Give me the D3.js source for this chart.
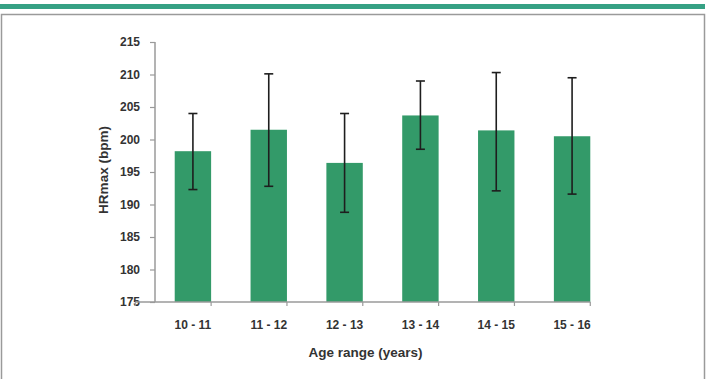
<!DOCTYPE html>
<html>
<head>
<meta charset="utf-8">
<script src="https://cdn.jsdelivr.net/npm/d3@7"></script>
<style>
  body { margin: 0; background: #fff; }
  svg { display: block; font-family: "Liberation Sans", Arial, sans-serif; }
</style>
</head>
<body>
<div id="chart-area"></div>
<script>
// data
var ageRanges = ["10 - 11", "11 - 12", "12 - 13", "13 - 14", "14 - 15", "15 - 16"];
var hrMax = [198.2, 201.5, 196.4, 203.7, 201.4, 200.5];
var errHigh = [204.0, 210.1, 204.0, 209.0, 210.3, 209.5];
var errLow = [192.3, 192.8, 188.8, 198.5, 192.1, 191.6];
var yTicks = [175, 180, 185, 190, 195, 200, 205, 210, 215];

var W = 721, H = 379;
var margin = { left: 155, right: 111, top: 42, bottom: 77 };
var width = W - margin.left - margin.right,
    height = H - margin.top - margin.bottom;

var svg = d3.select("#chart-area")
  .append("svg")
    .attr("width", W)
    .attr("height", H);

// top band + frame
svg.append("rect")
  .attr("x", 0).attr("y", 4)
  .attr("width", 705).attr("height", 5)
  .attr("fill", "#36a184");

svg.append("path")
  .attr("d", "M1.5," + H + "V14.5H704.5V" + H)
  .attr("fill", "none")
  .attr("stroke", "#9a9a9a")
  .attr("stroke-width", 1.5);

var g = svg.append("g")
  .attr("transform", "translate(" + margin.left + ", " + margin.top + ")");

var x = d3.scaleBand()
  .domain(ageRanges)
  .range([0, width])
  .paddingInner(0.52)
  .paddingOuter(0.26);

var y = d3.scaleLinear()
  .domain([175, 215])
  .range([height, 0]);

// bars
g.selectAll("rect.bar")
  .data(ageRanges)
  .enter().append("rect")
    .attr("class", "bar")
    .attr("x", function(d) { return x(d); })
    .attr("y", function(d, i) { return y(hrMax[i]); })
    .attr("width", x.bandwidth())
    .attr("height", function(d, i) { return height - y(hrMax[i]); })
    .attr("fill", "#339a69");

// error bars
var err = g.selectAll("g.err")
  .data(ageRanges)
  .enter().append("g")
    .attr("class", "err")
    .attr("transform", function(d) { return "translate(" + (x(d) + x.bandwidth() / 2) + ",0)"; })
    .attr("stroke", "#1e1e1e")
    .attr("stroke-width", 1.6);

err.append("line")
  .attr("y1", function(d, i) { return y(errHigh[i]); })
  .attr("y2", function(d, i) { return y(errLow[i]); });
err.append("line")
  .attr("x1", -4.5).attr("x2", 4.5)
  .attr("y1", function(d, i) { return y(errHigh[i]); })
  .attr("y2", function(d, i) { return y(errHigh[i]); });
err.append("line")
  .attr("x1", -4.5).attr("x2", 4.5)
  .attr("y1", function(d, i) { return y(errLow[i]); })
  .attr("y2", function(d, i) { return y(errLow[i]); });

// y axis
var yAxisGroup = g.append("g")
  .call(d3.axisLeft(y).tickValues(yTicks).tickSize(5).tickPadding(10));

// x axis: labels from band scale, ticks at band boundaries
var xAxisGroup = g.append("g")
  .attr("transform", "translate(0, " + height + ")")
  .call(d3.axisBottom(x).tickSize(0).tickPadding(18));

var step = x.step();
var bounds = d3.range(ageRanges.length + 1).map(function(i) {
  return x(ageRanges[0]) - x.paddingOuter() * step - x.paddingInner() * step / 2 + i * step;
});
xAxisGroup.selectAll("line.bnd")
  .data(bounds)
  .enter().append("line")
    .attr("class", "bnd")
    .attr("x1", function(d) { return d; })
    .attr("x2", function(d) { return d; })
    .attr("y1", 0).attr("y2", 4);

[yAxisGroup, xAxisGroup].forEach(function(ax) {
  ax.select(".domain").attr("stroke", "#9a9a9a").attr("stroke-width", 1.5);
  ax.selectAll("line").attr("stroke", "#9a9a9a").attr("stroke-width", 1.2);
  ax.selectAll("text")
    .attr("fill", "#333")
    .attr("font-size", "12px")
    .attr("font-weight", "bold")
    .attr("font-family", "'Liberation Sans', Arial, sans-serif");
});
yAxisGroup.select(".domain").attr("d", "M0," + height + "V0");
xAxisGroup.select(".domain").attr("d", "M" + bounds[0] + ",0H" + bounds[bounds.length - 1]);

// labels
g.append("text")
  .attr("x", width / 2 - 17)
  .attr("y", height + 55)
  .attr("font-size", "13.5px")
  .attr("font-weight", "bold")
  .attr("fill", "#333")
  .attr("text-anchor", "middle")
  .text("Age range (years)");

g.append("text")
  .attr("transform", "translate(-52," + (height / 2 - 2) + ") rotate(-90)")
  .attr("font-size", "13.5px")
  .attr("font-weight", "bold")
  .attr("fill", "#333")
  .attr("text-anchor", "middle")
  .attr("dy", "0.35em")
  .text("HRmax (bpm)");
</script>
</body>
</html>
